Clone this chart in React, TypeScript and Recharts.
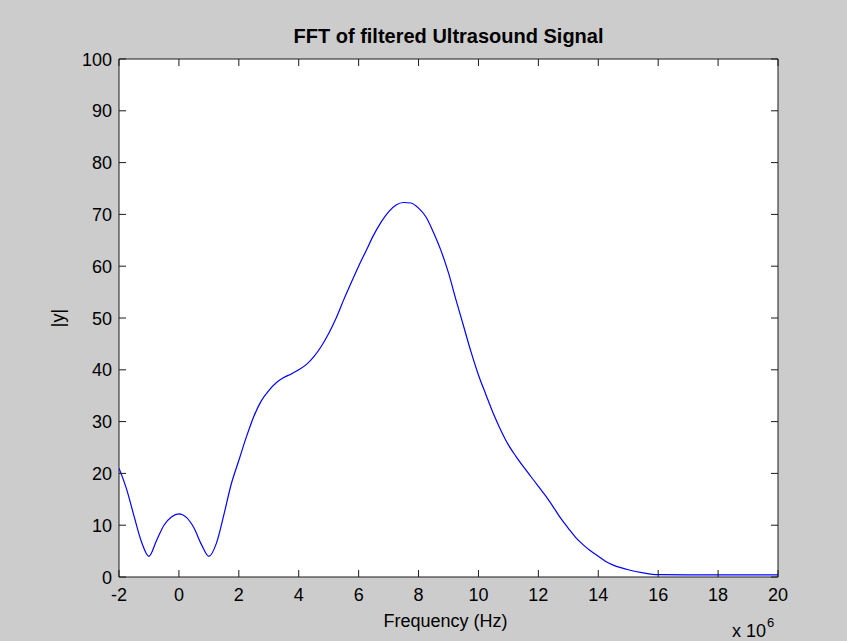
import React from 'react';
import { LineChart, Line, XAxis, YAxis, CartesianGrid, ReferenceArea, Customized } from 'recharts';

const freq = [
  -2, -1.75, -1.5, -1.25, -1, -0.75, -0.5, -0.25, 0, 0.25, 0.5, 0.75, 1, 1.25, 1.5, 1.75,
  2, 2.25, 2.5, 2.75, 3, 3.25, 3.5, 3.75, 4, 4.25, 4.5, 4.75, 5, 5.25, 5.5, 5.75,
  6, 6.25, 6.5, 6.75, 7, 7.25, 7.5, 7.75, 8, 8.25, 8.5, 8.75, 9, 9.25, 9.5, 9.75,
  10, 10.25, 10.5, 10.75, 11, 11.25, 11.5, 11.75, 12, 12.25, 12.5, 12.75, 13, 13.25, 13.5, 13.75,
  14, 14.25, 14.5, 14.75, 15, 15.5, 16, 17, 18, 19, 20,
];
const magnitude = [
  21, 17, 11.8, 6.8, 4, 7, 10, 11.6, 12.2, 11.5, 9.5, 6.3, 4, 6.5, 12, 18,
  22.5, 27, 31, 34, 36, 37.5, 38.5, 39.2, 40, 41, 42.5, 44.5, 47, 50, 53.5, 56.8,
  60, 63, 66, 68.5, 70.5, 71.8, 72.3, 72.2, 71.2, 69.5, 66.5, 63, 58.7, 53.5, 48.5, 43.5,
  39, 35.2, 31.5, 28.3, 25.5, 23.3, 21.3, 19.4, 17.5, 15.6, 13.5, 11.3, 9.4, 7.6, 6.2, 5.0,
  4.0, 3.0, 2.3, 1.8, 1.4, 0.8, 0.45, 0.4, 0.4, 0.4, 0.4,
];
const xTicks = [-2, 0, 2, 4, 6, 8, 10, 12, 14, 16, 18, 20];
const yTicks = [0, 10, 20, 30, 40, 50, 60, 70, 80, 90, 100];
const title = 'FFT of filtered Ultrasound Signal';
const xLabel = 'Frequency (Hz)';
const yLabel = '|y|';
const xExponent = '6';

const data = freq.map((f, i) => ({ f, y: magnitude[i] }));

const W = 847;
const H = 641;
const PL = 119;
const PR = 778;
const PT = 59;
const PB = 577;
const TICK = 7;
const FONT = '"Liberation Sans", Arial, Helvetica, sans-serif';
const AXIS_COLOR = '#1a1a1a';

const XTick = (props: any) => {
  const { x, payload } = props;
  return (
    <g>
      <line x1={x} x2={x} y1={PB} y2={PB - TICK} stroke={AXIS_COLOR} strokeWidth={1} />
      <line x1={x} x2={x} y1={PT} y2={PT + TICK} stroke={AXIS_COLOR} strokeWidth={1} />
      <text x={x} y={PB + 24} textAnchor="middle" fontSize={18} fontFamily={FONT} fill="#000">
        {payload.value}
      </text>
    </g>
  );
};

const YTick = (props: any) => {
  const { y, payload } = props;
  return (
    <g>
      <line x1={PL} x2={PL + TICK} y1={y} y2={y} stroke={AXIS_COLOR} strokeWidth={1} />
      <line x1={PR} x2={PR - TICK} y1={y} y2={y} stroke={AXIS_COLOR} strokeWidth={1} />
      <text x={PL - 7} y={y + 6.5} textAnchor="end" fontSize={18} fontFamily={FONT} fill="#000">
        {payload.value}
      </text>
    </g>
  );
};

const Extras = () => (
  <g>
    <text x={(PL + PR) / 2} y={43} textAnchor="middle" fontSize={20} fontWeight="bold" fontFamily={FONT} fill="#000">
      {title}
    </text>
    <text x={(PL + PR) / 2 - 3} y={627} textAnchor="middle" fontSize={18} fontFamily={FONT} fill="#000">
      {xLabel}
    </text>
    <text
      x={0}
      y={0}
      transform={`translate(64, ${(PT + PB) / 2}) rotate(-90)`}
      textAnchor="middle"
      fontSize={18}
      fontFamily={FONT}
      fill="#000"
    >
      {yLabel}
    </text>
    <text x={732} y={637} fontSize={18} fontFamily={FONT} fill="#000">
      x 10
    </text>
    <text x={767} y={627} fontSize={13} fontFamily={FONT} fill="#000">
      {xExponent}
    </text>
  </g>
);

export default function App() {
  return (
    <div style={{ position: 'absolute', left: 0, top: 0, width: W, height: H, background: '#cccccc' }}>
      <LineChart
        width={W}
        height={H}
        data={data}
        margin={{ top: PT, right: W - PR, bottom: H - PB - 50, left: PL - 60 }}
      >
        <CartesianGrid horizontal={false} vertical={false} fill="#ffffff" />
        <XAxis
          dataKey="f"
          type="number"
          domain={[-2, 20]}
          ticks={xTicks}
          height={50}
          axisLine={false}
          tickLine={false}
          tick={<XTick />}
          interval={0}
          allowDataOverflow
        />
        <YAxis
          type="number"
          domain={[0, 100]}
          ticks={yTicks}
          width={60}
          axisLine={false}
          tickLine={false}
          tick={<YTick />}
          interval={0}
          allowDataOverflow
        />
        <Line
          type="monotone"
          dataKey="y"
          stroke="#0000ff"
          strokeWidth={1.2}
          dot={false}
          isAnimationActive={false}
        />
        <ReferenceArea x1={-2} x2={20} y1={0} y2={100} fill="none" stroke={AXIS_COLOR} strokeWidth={1} ifOverflow="visible" />
        <Customized component={Extras} />
      </LineChart>
    </div>
  );
}
